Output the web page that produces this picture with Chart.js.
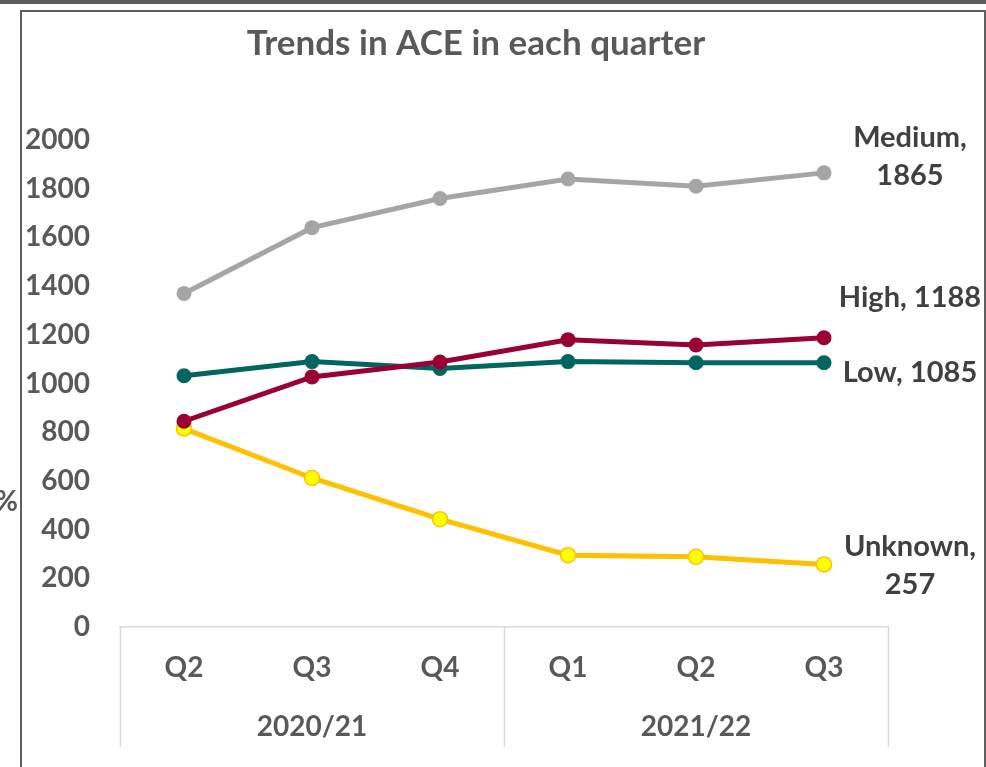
<!DOCTYPE html>
<html>
<head>
<meta charset="utf-8">
<script src="https://cdn.jsdelivr.net/npm/chart.js@4"></script>
<style>
html,body{margin:0;padding:0;background:#fff;}
#wrap{position:relative;width:986px;height:767px;}
canvas{display:block;}
</style>
</head>
<body>
<div id="wrap"><canvas id="c" width="986" height="767"></canvas></div>
<script>
const categories = ["Q2", "Q3", "Q4", "Q1", "Q2", "Q3"];
const groups = [{label: "2020/21", from: 0, to: 2}, {label: "2021/22", from: 3, to: 5}];
const seriesNames = ["Medium", "High", "Low", "Unknown"];
const medium = [1370, 1640, 1760, 1840, 1810, 1865];
const high = [845, 1027, 1088, 1180, 1158, 1188];
const low = [1032, 1090, 1062, 1090, 1085, 1085];
const unknown = [815, 612, 443, 295, 288, 257];
const yTicks = [0, 200, 400, 600, 800, 1000, 1200, 1400, 1600, 1800, 2000];
const titleText = "Trends in ACE in each quarter";
const yTitle = "%";

const FONT = "Lato, 'Open Sans', sans-serif";
const TXT = "#595959";
const LBL = "#404040";

// label placement (style)
const labelStyle = {
  Medium: {dx: 86, dy: -16, split: true},
  High: {dx: 86, dy: -40, split: false},
  Low: {dx: 86, dy: 10, split: false},
  Unknown: {dx: 86, dy: 1, split: true}
};

const framePlugin = {
  id: 'frame',
  beforeDraw(chart) {
    const ctx = chart.ctx;
    ctx.save();
    ctx.fillStyle = '#fff';
    ctx.fillRect(0, 0, chart.width, chart.height);
    ctx.fillStyle = '#5e5e5e';
    ctx.fillRect(0, 0, chart.width, 4);
    ctx.strokeStyle = '#5f5f5f';
    ctx.lineWidth = 2;
    ctx.beginPath();
    ctx.moveTo(21, chart.height + 2);
    ctx.lineTo(21, 11);
    ctx.lineTo(985, 11);
    ctx.lineTo(985, chart.height + 2);
    ctx.stroke();
    ctx.fillStyle = TXT;
    ctx.font = "bold 35px " + FONT;
    ctx.textAlign = 'center';
    ctx.textBaseline = 'middle';
    ctx.fillText(titleText, 476, 44);
    ctx.font = "bold 28px " + FONT;
    ctx.textAlign = 'right';
    ctx.fillText(yTitle, 18, 502);
    ctx.restore();
  },
  afterDraw(chart) {
    const ctx = chart.ctx;
    const xs = chart.scales.x;
    const area = chart.chartArea;
    ctx.save();
    ctx.strokeStyle = '#d9d9d9';
    ctx.lineWidth = 1.5;
    const bounds = [area.left];
    for (let g = 0; g < groups.length - 1; g++) {
      bounds.push((xs.getPixelForValue(groups[g].to) + xs.getPixelForValue(groups[g + 1].from)) / 2);
    }
    bounds.push(area.right);
    ctx.beginPath();
    bounds.forEach(b => {
      ctx.moveTo(Math.round(b) + 0.5, area.bottom);
      ctx.lineTo(Math.round(b) + 0.5, 747);
    });
    ctx.stroke();
    ctx.fillStyle = TXT;
    ctx.font = "bold 28px " + FONT;
    ctx.textAlign = 'center';
    ctx.textBaseline = 'middle';
    groups.forEach(g => {
      const cx = (xs.getPixelForValue(g.from) + xs.getPixelForValue(g.to)) / 2;
      ctx.fillText(g.label, cx, 727);
    });
    ctx.fillStyle = LBL;
    ctx.font = "bold 29px " + FONT;
    chart.data.datasets.forEach((ds, i) => {
      const meta = chart.getDatasetMeta(i);
      const last = meta.data[meta.data.length - 1];
      const st = labelStyle[ds.label];
      const val = ds.data[ds.data.length - 1];
      const x = last.x + st.dx, y = last.y + st.dy;
      if (st.split) {
        ctx.fillText(ds.label + ",", x, y - 19);
        ctx.fillText(String(val), x, y + 19);
      } else {
        ctx.fillText(ds.label + ", " + val, x, y);
      }
    });
    ctx.restore();
  }
};

const mk = (label, data, color, pfill, pborder) => ({
  label, data,
  borderColor: color,
  backgroundColor: pfill || color,
  pointBackgroundColor: pfill || color,
  pointBorderColor: pborder || color,
  pointBorderWidth: pborder ? 1.5 : 0,
  borderWidth: 5,
  pointRadius: 7.5,
  pointHoverRadius: 7.5,
  tension: 0,
  clip: false
});

new Chart(document.getElementById('c'), {
  type: 'line',
  data: {
    labels: categories,
    datasets: [
      mk(seriesNames[0], medium, '#a5a5a5'),
      mk(seriesNames[1], high, '#990033'),
      mk(seriesNames[2], low, '#00665f'),
      mk(seriesNames[3], unknown, '#ffc000', '#ffff00', '#ffc000')
    ]
  },
  plugins: [framePlugin],
  options: {
    responsive: false,
    animation: false,
    events: [],
    layout: {padding: {left: 0, right: 98, top: 140, bottom: 0}},
    plugins: {
      legend: {display: false},
      title: {display: false},
      tooltip: {enabled: false}
    },
    scales: {
      x: {
        offset: true,
        grid: {display: false, drawTicks: false},
        border: {display: true, color: '#d9d9d9', width: 1.5},
        ticks: {
          color: TXT,
          font: {family: FONT, size: 28, weight: 'bold'},
          padding: 24,
          maxRotation: 0,
          autoSkip: false
        },
        afterFit(s) { s.height = 140; }
      },
      y: {
        min: 0,
        max: 2000,
        grid: {display: false, drawTicks: false},
        border: {display: false},
        afterBuildTicks(s) { s.ticks = yTicks.map(v => ({value: v})); },
        ticks: {
          color: TXT,
          font: {family: FONT, size: 28, weight: 'bold'},
          padding: 30,
          callback: v => String(v)
        },
        afterFit(s) { s.width = 120; }
      }
    }
  }
});
</script>
</body>
</html>
